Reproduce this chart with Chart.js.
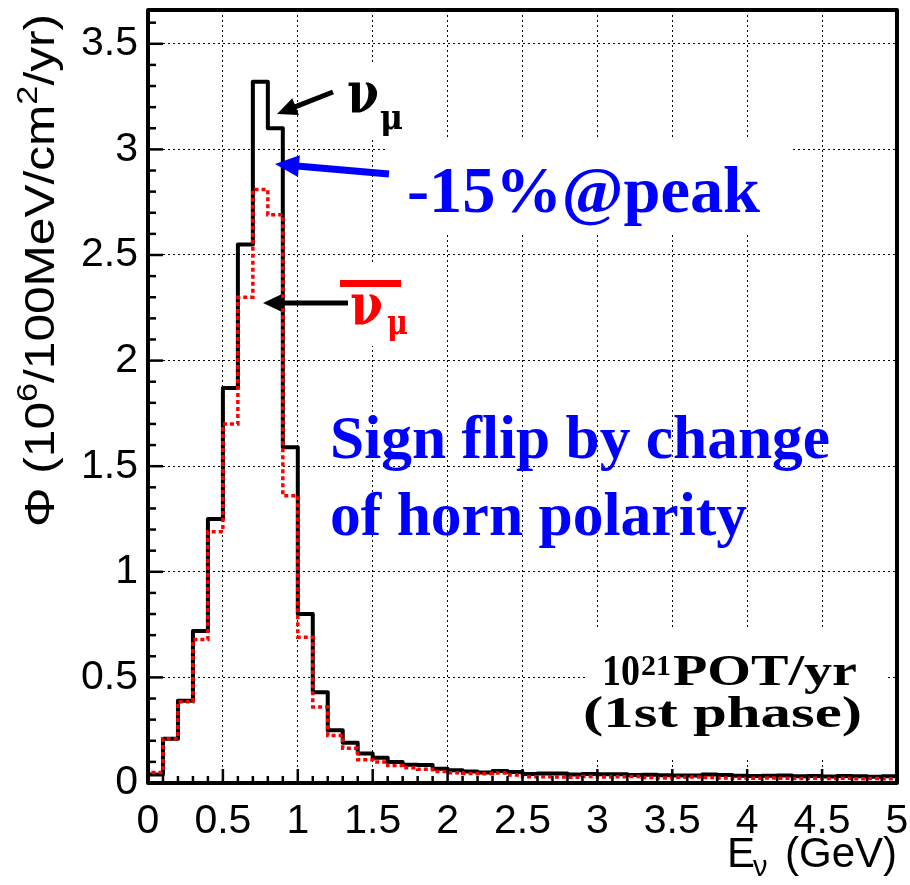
<!DOCTYPE html>
<html><head><meta charset="utf-8">
<script src="https://cdn.jsdelivr.net/npm/chart.js@4.4.0/dist/chart.umd.min.js"></script>
<style>html,body{margin:0;padding:0;background:#fff}#wrap{width:910px;height:885px}</style>
</head><body><div id="wrap"><canvas id="c" width="910" height="885"></canvas></div>
<script>
// ---- data ----
const binEdges = [0.0,0.1,0.2,0.3,0.4,0.5,0.6,0.7,0.8,0.9,1.0,1.1,1.2,1.3,1.4,1.5,1.6,1.7,1.8,1.9,2.0,2.1,2.2,2.3,2.4,2.5,2.6,2.7,2.8,2.9,3.0,3.1,3.2,3.3,3.4,3.5,3.6,3.7,3.8,3.9,4.0,4.1,4.2,4.3,4.4,4.5,4.6,4.7,4.8,4.9,5.0];
const numuFlux = [0.04,0.21,0.39,0.72,1.25,1.87,2.55,3.32,3.10,1.59,0.80,0.43,0.25,0.19,0.14,0.12,0.10,0.087,0.085,0.068,0.060,0.054,0.050,0.057,0.052,0.043,0.045,0.045,0.040,0.043,0.041,0.042,0.038,0.039,0.037,0.035,0.036,0.040,0.038,0.034,0.033,0.034,0.035,0.032,0.033,0.031,0.033,0.032,0.030,0.032];
const antiNumuFlux = [0.05,0.21,0.385,0.68,1.19,1.70,2.30,2.81,2.69,1.36,0.69,0.36,0.225,0.165,0.11,0.10,0.083,0.072,0.065,0.054,0.048,0.045,0.044,0.047,0.038,0.030,0.030,0.029,0.027,0.031,0.028,0.030,0.031,0.026,0.024,0.027,0.029,0.026,0.024,0.022,0.023,0.024,0.022,0.021,0.022,0.021,0.022,0.020,0.021,0.020];
const xTickLabels = ['0','0.5','1','1.5','2','2.5','3','3.5','4','4.5','5'];
const yTickLabels = ['0','0.5','1','1.5','2','2.5','3','3.5'];

function histPoints(edges, vals){
  const pts = [{x: edges[0], y: 0}];
  for (let i = 0; i < edges.length; i++) {
    pts.push({x: edges[i], y: vals[Math.min(i, vals.length - 1)]});
  }
  return pts;
}

const SANS = '"Liberation Sans", Arial, Helvetica, sans-serif';
const SERIF = '"Liberation Serif", "Times New Roman", serif';

function drawFit(ctx, text, font, x, y, width, color){
  ctx.save();
  ctx.font = font; ctx.fillStyle = color; ctx.textBaseline = 'alphabetic'; ctx.textAlign = 'left';
  const w = ctx.measureText(text).width;
  ctx.translate(x, y); ctx.scale(width / w, 1);
  ctx.fillText(text, 0, 0);
  ctx.restore();
}
function drawArrow(ctx, x1, y1, x2, y2, lw, hl, hw, color){
  const a = Math.atan2(y2 - y1, x2 - x1);
  const bx = x2 - Math.cos(a) * hl, by = y2 - Math.sin(a) * hl;
  ctx.save();
  ctx.strokeStyle = color; ctx.fillStyle = color; ctx.lineWidth = lw; ctx.lineCap = 'butt';
  ctx.beginPath(); ctx.moveTo(x1, y1); ctx.lineTo(bx + Math.cos(a) * 2, by + Math.sin(a) * 2); ctx.stroke();
  ctx.beginPath();
  ctx.moveTo(x2, y2);
  ctx.lineTo(bx + Math.sin(a) * hw / 2, by - Math.cos(a) * hw / 2);
  ctx.lineTo(bx - Math.sin(a) * hw / 2, by + Math.cos(a) * hw / 2);
  ctx.closePath(); ctx.fill();
  ctx.restore();
}

const decor = {
  id: 'decor',
  beforeDatasetsDraw(chart){
    const ctx = chart.ctx;
    ctx.save(); ctx.fillStyle = '#fff';
    ctx.fillRect(340, 62, 76, 75);     // nu_mu label box
    ctx.fillRect(385, 138, 405, 97);   // -15%@peak box
    ctx.fillRect(328, 262, 104, 84);   // anti-nu label box
    ctx.fillRect(585, 628, 300, 130);  // POT box
    ctx.restore();
  },
  afterDraw(chart){
    const ctx = chart.ctx, a = chart.chartArea;
    const xs = chart.scales.x, ys = chart.scales.y;
    ctx.save();
    // ticks
    ctx.strokeStyle = '#000'; ctx.lineWidth = 2.5;
    for (let i = 0; i <= 50; i++) {
      const px = xs.getPixelForValue(i / 10);
      const len = i % 5 === 0 ? 14 : 7;
      ctx.beginPath(); ctx.moveTo(px, a.bottom); ctx.lineTo(px, a.bottom - len); ctx.stroke();
    }
    for (let i = 0; i <= 36; i++) {
      const py = ys.getPixelForValue(i / 10);
      const len = i % 5 === 0 ? 15 : 8;
      ctx.beginPath(); ctx.moveTo(a.left, py); ctx.lineTo(a.left + len, py); ctx.stroke();
    }
    // frame
    ctx.lineWidth = 4; ctx.lineJoin = 'round';
    ctx.strokeRect(a.left, a.top, a.right - a.left, a.bottom - a.top);
    ctx.restore();

    // axis titles
    ctx.save();
    ctx.fillStyle = '#000'; ctx.textBaseline = 'alphabetic';
    ctx.font = '42px ' + SANS;
    const eW = ctx.measureText('E').width;
    const gW = ctx.measureText('(GeV)').width;
    ctx.textAlign = 'left';
    ctx.fillText('(GeV)', 897 - gW, 867);
    ctx.fillText('E', 727, 867);
    ctx.font = '29px ' + SANS;
    ctx.fillText('\u03BD', 727 + eW - 2, 876);
    ctx.restore();

    ctx.save();
    ctx.translate(54, 527); ctx.rotate(-Math.PI / 2);
    const big = '42px ' + SANS, small = '29px ' + SANS;
    const parts = [['\u03A6 (10', big, 0], ['6', small, -17], ['/100MeV/cm', big, 0], ['2', small, -17], ['/yr)', big, 0]];
    let tot = 0;
    parts.forEach(p => { ctx.font = p[1]; tot += ctx.measureText(p[0]).width; });
    ctx.scale(513 / tot, 1);
    ctx.fillStyle = '#000'; ctx.textBaseline = 'alphabetic';
    let cx = 0;
    parts.forEach(p => { ctx.font = p[1]; ctx.fillText(p[0], cx, p[2]); cx += ctx.measureText(p[0]).width; });
    ctx.restore();

    // annotations
    drawArrow(ctx, 333, 92, 277, 114, 5, 20, 18, '#000');
    drawFit(ctx, '\u03BD', 'bold 58px "DejaVu Serif", serif', 347, 113, 32, '#000');
    drawFit(ctx, '\u03BC', 'bold 36px "DejaVu Serif", serif', 380, 129, 23, '#000');

    drawArrow(ctx, 389, 174, 275, 164, 7, 24, 22, '#0000ff');
    drawFit(ctx, '-15%@peak', 'bold 66px ' + SERIF, 407, 212, 353, '#0000ff');

    ctx.save(); ctx.fillStyle = '#ff0000'; ctx.fillRect(340, 280, 61, 7); ctx.restore();
    drawFit(ctx, '\u03BD', 'bold 58px "DejaVu Serif", serif', 350, 325, 33, '#ff0000');
    drawFit(ctx, '\u03BC', 'bold 36px "DejaVu Serif", serif', 387, 334, 21, '#ff0000');
    drawArrow(ctx, 348, 303, 263, 303, 5, 18, 17, '#000');

    drawFit(ctx, 'Sign flip by change', 'bold 62px ' + SERIF, 330, 458, 500, '#0000ff');
    drawFit(ctx, 'of horn polarity', 'bold 62px ' + SERIF, 330, 535, 417, '#0000ff');

    drawFit(ctx, '10', 'bold 45px ' + SERIF, 602, 685, 38, '#000');
    drawFit(ctx, '21', 'bold 29px ' + SERIF, 641, 675, 30, '#000');
    drawFit(ctx, 'POT/yr', 'bold 45px ' + SERIF, 673, 685, 184, '#000');
    drawFit(ctx, '(1st phase)', 'bold 45px ' + SERIF, 583, 727, 279, '#000');
  }
};

const tickFont = {family: SANS, size: 41};
new Chart(document.getElementById('c'), {
  type: 'line',
  data: {
    datasets: [
      {label: 'anti-numu', data: histPoints(binEdges, antiNumuFlux), stepped: true, borderColor: '#ff0000', borderWidth: 3.5, borderDash: [4, 3], pointRadius: 0, fill: false, borderJoinStyle: 'miter'},
      {label: 'numu', data: histPoints(binEdges, numuFlux), stepped: true, borderColor: '#000000', borderWidth: 4, pointRadius: 0, fill: false, borderJoinStyle: 'round'}
    ]
  },
  options: {
    responsive: false, animation: false, devicePixelRatio: 1,
    layout: {padding: {left: 0, right: 13, top: 10, bottom: 0}},
    plugins: {legend: {display: false}, tooltip: {enabled: false}},
    scales: {
      x: {
        type: 'linear', min: 0, max: 5,
        ticks: {stepSize: 0.5, includeBounds: false, autoSkip: false, maxRotation: 0, minRotation: 0, padding: 14, color: '#000', font: tickFont,
          callback: v => xTickLabels[Math.round(v / 0.5)]},
        grid: {color: '#000', lineWidth: 1, drawTicks: false},
        border: {display: false, dash: [2, 3]},
        afterFit: s => { s.height = 102; s.paddingLeft = 0; s.paddingRight = 0; s.paddingTop = 0; s.paddingBottom = 0; }
      },
      y: {
        type: 'linear', min: 0, max: 3.66,
        ticks: {stepSize: 0.5, includeBounds: false, padding: 10, color: '#000', font: tickFont,
          callback: v => yTickLabels[Math.round(v / 0.5)]},
        grid: {color: '#000', lineWidth: 1, drawTicks: false},
        border: {display: false, dash: [2, 3]},
        afterFit: s => { s.width = 148; s.paddingLeft = 0; s.paddingRight = 0; s.paddingTop = 0; s.paddingBottom = 0; }
      }
    }
  },
  plugins: [decor]
});
</script>
</body></html>
